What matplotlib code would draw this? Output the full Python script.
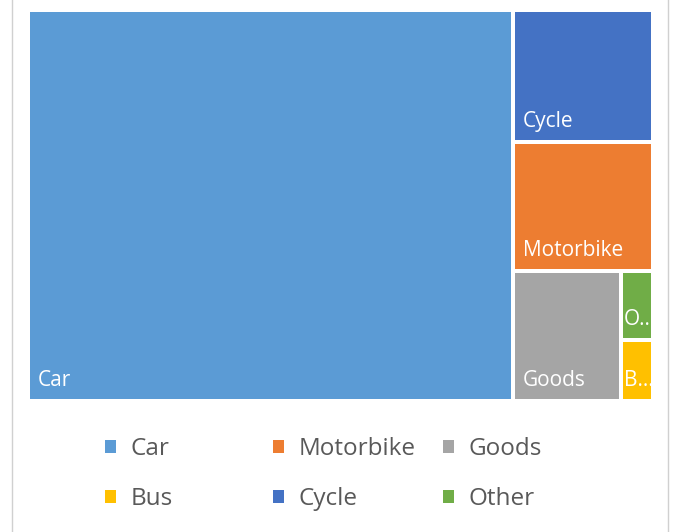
import matplotlib.pyplot as plt
from matplotlib.patches import Rectangle, Patch
from matplotlib.lines import Line2D

plt.rcParams['font.family'] = ['Open Sans', 'DejaVu Sans']

# share of journeys by mode
modes = ['Car', 'Cycle', 'Motorbike', 'Goods', 'Other', 'Bus']
values = [77.2, 7.5, 7.4, 5.7, 0.9, 0.8]
colors = ['#5B9BD5', '#4472C4', '#ED7D31', '#A5A5A5', '#70AD47', '#FFC000']

# legend columns as Excel lays them out
legend_cols = [['Car', 'Bus'], ['Motorbike', 'Cycle'], ['Goods', 'Other']]


def worst(row, w):
    s = sum(row)
    return max(max(w * w * r / (s * s), s * s / (w * w * r)) for r in row)


def layout(row, x, y, dx, dy):
    s = sum(row)
    rects = []
    if dx >= dy:
        # column on the left
        cw = s / dy
        yy = y
        for r in row:
            h = r / cw
            rects.append((x, yy, cw, h))
            yy += h
        return rects, (x + cw, y, dx - cw, dy)
    rh = s / dx
    xx = x
    for r in row:
        w = r / rh
        rects.append((xx, y, w, rh))
        xx += w
    return rects, (x, y + rh, dx, dy - rh)


def squarify(sizes, x, y, dx, dy):
    out = []
    sizes = list(sizes)
    while sizes:
        short = min(dx, dy)
        row = [sizes.pop(0)]
        while sizes and worst(row + [sizes[0]], short) <= worst(row, short):
            row.append(sizes.pop(0))
        rects, (x, y, dx, dy) = layout(row, x, y, dx, dy)
        out += rects
    return out


W, H = 625.0, 391.0
tot = sum(values)
areas = [v / tot * W * H for v in values]
rects = squarify(areas, 0, 0, W, H)

fig = plt.figure(figsize=(6.76, 5.32), dpi=100)
ax = fig.add_axes([28 / 676, 1 - 401 / 532, W / 676, H / 532])
ax.set_xlim(0, W)
ax.set_ylim(H, 0)
ax.axis('off')

fig.canvas.draw()
rend = fig.canvas.get_renderer()
gap = 2.0
for (x, y, w, h), name, c in zip(rects, modes, colors):
    p = Rectangle((x + gap, y + gap), w - 2 * gap, h - 2 * gap,
                  facecolor=c, edgecolor='none')
    ax.add_patch(p)
    t = ax.text(x + gap + 8, y + h - gap - 13, name, color='white',
                fontsize=15, ha='left', va='baseline')
    bw = t.get_window_extent(rend).width
    if bw > w - 2 * gap - 8:
        t.set_text(name[0] + '...')
        t.set_x(x + gap + 1)
        t.set_clip_path(p)

for i, col in enumerate(legend_cols):
    handles = [Patch(facecolor=colors[modes.index(m)], label=m) for m in col]
    fig.legend(handles=handles, ncol=1, loc='center left',
               bbox_to_anchor=([105, 273, 443][i] / 676, 1 - 474 / 532),
               frameon=False, borderpad=0, borderaxespad=0,
               fontsize=17.5, labelcolor='#595959', handlelength=0.45,
               handleheight=0.45, handletextpad=0.6, labelspacing=1.08)

# chart area border (top and bottom cropped in the original)
fig.add_artist(Line2D([12 / 676, 12 / 676], [0, 1], color='#d0d0d0', lw=1))
fig.add_artist(Line2D([668 / 676, 668 / 676], [0, 1], color='#d0d0d0', lw=1))

fig.savefig('out.png', dpi=100)
